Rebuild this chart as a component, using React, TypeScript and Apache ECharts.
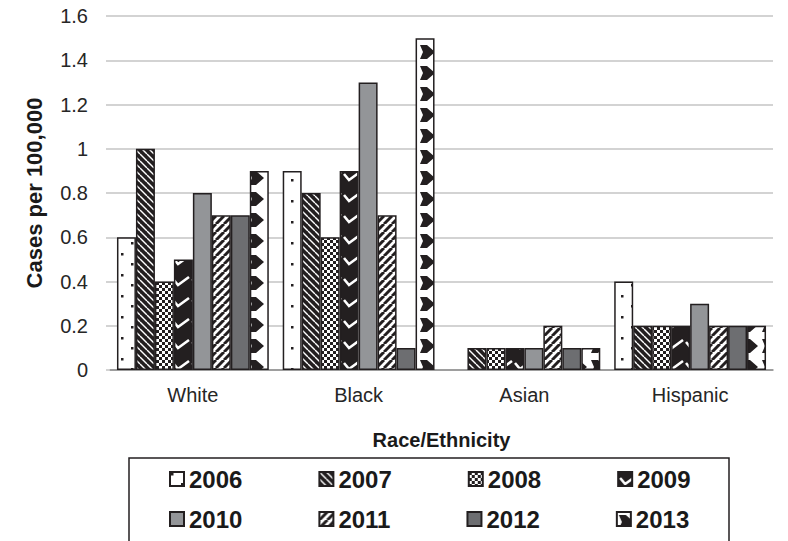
import React, { useEffect, useRef } from "react";
import * as echarts from "echarts";

const categories = ["White", "Black", "Asian", "Hispanic"];
const years = ["2006", "2007", "2008", "2009", "2010", "2011", "2012", "2013"];
const v2006 = [0.6, 0.9, 0, 0.4];
const v2007 = [1.0, 0.8, 0.1, 0.2];
const v2008 = [0.4, 0.6, 0.1, 0.2];
const v2009 = [0.5, 0.9, 0.1, 0.2];
const v2010 = [0.8, 1.3, 0.1, 0.3];
const v2011 = [0.7, 0.7, 0.2, 0.2];
const v2012 = [0.7, 0.1, 0.1, 0.2];
const v2013 = [0.9, 1.5, 0.1, 0.2];
const values = [v2006, v2007, v2008, v2009, v2010, v2011, v2012, v2013];
const yMin = 0;
const yMax = 1.6;
const yStep = 0.2;

const INK = "#231f20";
const FONT = "Liberation Sans, Arial, sans-serif";

function tile(w: number, h: number, draw: (c: CanvasRenderingContext2D) => void) {
  const cv = document.createElement("canvas");
  cv.width = w;
  cv.height = h;
  const c = cv.getContext("2d") as CanvasRenderingContext2D;
  draw(c);
  return { image: cv, repeat: "repeat", imageWidth: w, imageHeight: h } as any;
}

function makePatterns(): any[] {
  const dots = tile(20, 21, (c) => {
    c.fillStyle = "#fff";
    c.fillRect(0, 0, 20, 21);
    c.fillStyle = INK;
    c.fillRect(1, 1, 2.5, 2.5);
    c.fillRect(11, 11, 2.5, 2.5);
  });
  const dnDiag = tile(7, 7, (c) => {
    c.fillStyle = INK;
    c.fillRect(0, 0, 7, 7);
    c.strokeStyle = "#fff";
    c.lineWidth = 1.4;
    for (let k = -1; k <= 1; k++) {
      c.beginPath();
      c.moveTo(k * 7, 0);
      c.lineTo(k * 7 + 7, 7);
      c.stroke();
    }
  });
  const checker = tile(6, 6, (c) => {
    c.fillStyle = "#fff";
    c.fillRect(0, 0, 6, 6);
    c.fillStyle = INK;
    c.fillRect(0, 0, 3, 3);
    c.fillRect(3, 3, 3, 3);
  });
  const checks = tile(19, 21, (c) => {
    c.fillStyle = INK;
    c.fillRect(0, 0, 19, 21);
    c.strokeStyle = "#fff";
    c.lineWidth = 2.6;
    c.beginPath();
    c.moveTo(2, 6);
    c.lineTo(7, 12);
    c.lineTo(18, 4);
    c.stroke();
  });
  const upDiag = tile(8, 8, (c) => {
    c.fillStyle = "#fff";
    c.fillRect(0, 0, 8, 8);
    c.strokeStyle = INK;
    c.lineWidth = 3;
    for (let k = -1; k <= 1; k++) {
      c.beginPath();
      c.moveTo(k * 8, 8);
      c.lineTo(k * 8 + 8, 0);
      c.stroke();
    }
  });
  const arrows = tile(19, 21, (c) => {
    c.fillStyle = "#fff";
    c.fillRect(0, 0, 19, 21);
    c.fillStyle = INK;
    c.beginPath();
    c.moveTo(2, 3);
    c.lineTo(9, 3);
    c.lineTo(17, 10);
    c.lineTo(9, 17);
    c.lineTo(2, 17);
    c.lineTo(5, 10);
    c.closePath();
    c.fill();
  });
  return [dots, dnDiag, checker, checks, "#939598", upDiag, "#6d6e71", arrows];
}

export default function App() {
  const ref = useRef<HTMLDivElement>(null);
  useEffect(() => {
    if (!ref.current) return;
    const chart = echarts.init(ref.current, null, { renderer: "svg" });
    const patterns = makePatterns();
    const labelFont = { fontFamily: FONT, color: "#262626", fontSize: 20 };
    const legendCommon = {
      orient: "horizontal",
      left: 164,
      itemGap: 76,
      itemWidth: 14,
      itemHeight: 14,
      icon: "rect",
      textStyle: {
        fontFamily: FONT,
        fontWeight: "bold",
        fontSize: 24,
        color: "#1a1a1a",
        lineHeight: 26,
      },
    };
    const option: any = {
      animation: false,
      backgroundColor: "#fff",
      grid: { left: 110, right: 15, top: 16, bottom: 171, containLabel: false },
      xAxis: {
        type: "category",
        data: categories,
        axisLine: { show: true, lineStyle: { color: "#8c8c8c", width: 1.5 } },
        axisTick: { show: false },
        axisLabel: { ...labelFont, margin: 15 },
        name: "Race/Ethnicity",
        nameLocation: "middle",
        nameGap: 60,
        nameTextStyle: { fontFamily: FONT, fontWeight: "bold", fontSize: 20, color: "#1a1a1a" },
      },
      yAxis: {
        type: "value",
        min: yMin,
        max: yMax,
        interval: yStep,
        axisLine: { show: false },
        axisTick: { show: true, length: 4, lineStyle: { color: "#c4c4c4", width: 1.5 } },
        splitLine: { show: true, lineStyle: { color: "#c4c4c4", width: 1.5 } },
        axisLabel: { ...labelFont, margin: 22 },
        name: "Cases per 100,000",
        nameLocation: "middle",
        nameGap: 65,
        nameTextStyle: { fontFamily: FONT, fontWeight: "bold", fontSize: 22, color: "#1a1a1a" },
      },
      legend: [
        { ...legendCommon, data: years.slice(0, 4), top: 461 },
        { ...legendCommon, data: years.slice(4), top: 501 },
      ],
      graphic: [
        {
          type: "rect",
          shape: { x: 129, y: 458, width: 600, height: 95 },
          style: { fill: "none", stroke: INK, lineWidth: 1.5 },
          z: -1,
        },
      ],
      series: years.map((y, s) => ({
        type: "bar",
        name: y,
        barGap: "0%",
        barCategoryGap: "8.4%",
        itemStyle: { color: patterns[s], borderColor: INK, borderWidth: 1.5 },
        emphasis: { disabled: true },
        data: values[s].map((v) => ({ value: v, itemStyle: v === 0 ? { borderWidth: 0 } : undefined })),
      })),
    };
    chart.setOption(option);
    try {
      const model = (chart as any).getModel();
      const upd = years.map((y, s) => {
        const d = model.getSeriesByIndex(s).getData();
        return {
          data: values[s].map((v, j) => {
            const l = d.getItemLayout(j);
            const base = patterns[s];
            const color = typeof base === "string" ? base : { ...base, x: l ? Math.round(l.x) : 0 };
            return { value: v, itemStyle: v === 0 ? { borderWidth: 0, color } : { color } };
          }),
        };
      });
      chart.setOption({ series: upd });
    } catch (e) {
      // keep default patterns
    }
    return () => chart.dispose();
  }, []);
  return (
    <div
      ref={ref}
      style={{ position: "absolute", left: 0, top: 0, width: 788, height: 541, background: "#fff" }}
    />
  );
}
